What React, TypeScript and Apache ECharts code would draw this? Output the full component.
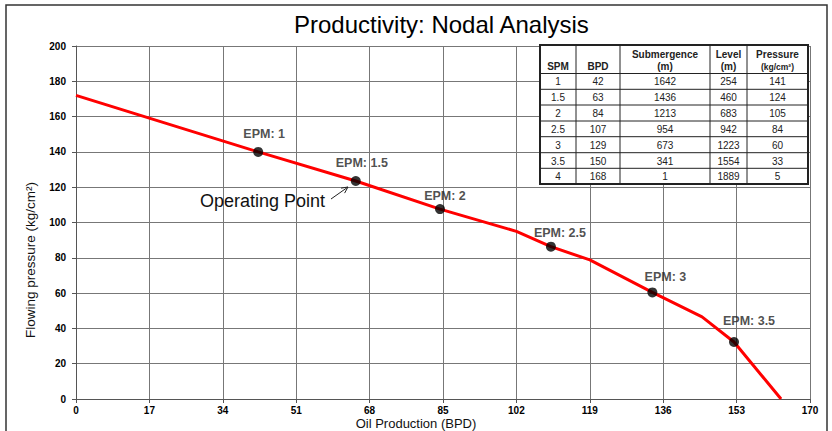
import React, { useEffect, useRef } from "react";
import * as echarts from "echarts";

// Curve (pressure vs production)
const curveBpd = [0, 42.2, 64.8, 84.3, 102, 110, 119, 133.5, 145, 152.4, 163.3];
const curvePressure = [172, 140, 123.5, 107.6, 95, 86.3, 78.8, 60.4, 46.5, 32.3, 0];

// EPM marker points (as plotted)
const epmLabels = ["EPM: 1", "EPM: 1.5", "EPM: 2", "EPM: 2.5", "EPM: 3", "EPM: 3.5"];
const epmBpd = [42.2, 64.8, 84.3, 110, 133.5, 152.4];
const epmPressure = [140, 123.5, 107.6, 86.3, 60.4, 32.3];

// Table contents
const tableHeader1 = ["", "", "Submergence", "Level", "Pressure"];
const tableHeader2 = ["SPM", "BPD", "(m)", "(m)", "(kg/cm²)"];
const tableSpm = ["1", "1.5", "2", "2.5", "3", "3.5", "4"];
const tableBpd = ["42", "63", "84", "107", "129", "150", "168"];
const tableSubmergence = ["1642", "1436", "1213", "954", "673", "341", "1"];
const tableLevel = ["254", "460", "683", "942", "1223", "1554", "1889"];
const tablePressure = ["141", "124", "105", "84", "60", "33", "5"];

const xTicks = [0, 17, 34, 51, 68, 85, 102, 119, 136, 153, 170];

// label offsets (styling)
const labelOffsets: [number, number][] = [
  [6, -18], [6, -18], [5, -13], [9, -14], [13, -15], [15, -21],
];

const FONT = "'Liberation Sans', Arial, sans-serif";

function buildTable() {
  const colX = [540, 576, 620, 710, 747, 808];
  const rowY = [45, 73.5, 89.3, 105, 121, 136.7, 152.7, 168.3, 184];
  const children: any[] = [];
  const Z = 100;
  children.push({
    type: "rect",
    z: Z,
    shape: { x: colX[0], y: rowY[0], width: colX[5] - colX[0], height: rowY[8] - rowY[0] },
    style: { fill: "#fff", stroke: "#222", lineWidth: 2 },
  });
  for (let i = 1; i < colX.length - 1; i++) {
    children.push({
      type: "line",
      z: Z + 1,
      shape: { x1: colX[i], y1: rowY[0], x2: colX[i], y2: rowY[8] },
      style: { stroke: "#222", lineWidth: 1 },
    });
  }
  for (let j = 1; j < rowY.length - 1; j++) {
    children.push({
      type: "line",
      z: Z + 1,
      shape: { x1: colX[0], y1: rowY[j], x2: colX[5], y2: rowY[j] },
      style: { stroke: "#222", lineWidth: 1 },
    });
  }
  const cols = [tableSpm, tableBpd, tableSubmergence, tableLevel, tablePressure];
  for (let c = 0; c < 5; c++) {
    const cx = (colX[c] + colX[c + 1]) / 2;
    if (tableHeader1[c]) {
      children.push({
        type: "text",
        z: Z + 2,
        style: {
          x: cx, y: 54, text: tableHeader1[c], align: "center", verticalAlign: "middle",
          font: `bold 10px ${FONT}`, fill: "#222",
        },
      });
    }
    children.push({
      type: "text",
      z: Z + 2,
      style: {
        x: cx, y: 66.5, text: tableHeader2[c], align: "center", verticalAlign: "middle",
        font: `bold ${c === 4 ? 8.5 : 10}px ${FONT}`, fill: "#222",
      },
    });
    for (let r = 0; r < cols[c].length; r++) {
      children.push({
        type: "text",
        z: Z + 2,
        style: {
          x: cx, y: (rowY[r + 1] + rowY[r + 2]) / 2 + 0.5, text: cols[c][r], align: "center",
          verticalAlign: "middle", font: `10px ${FONT}`, fill: "#222",
        },
      });
    }
  }
  return { type: "group", children, z: Z };
}

export default function App() {
  const ref = useRef<HTMLDivElement>(null);
  useEffect(() => {
    const chart = echarts.init(ref.current!, null, { renderer: "svg" });
    const ax = 331, ay = 199, bx = 348, by = 187;
    const dx = bx - ax, dy = by - ay;
    const len = Math.sqrt(dx * dx + dy * dy);
    const ux = dx / len, uy = dy / len;
    const ah = 7;
    const rot = (a: number) => [
      bx - ah * (ux * Math.cos(a) - uy * Math.sin(a)),
      by - ah * (ux * Math.sin(a) + uy * Math.cos(a)),
    ];
    chart.setOption({
      animation: false,
      backgroundColor: "#fff",
      title: {
        text: "Productivity: Nodal Analysis",
        left: 289,
        top: 7,
        textStyle: { fontFamily: FONT, fontSize: 24, fontWeight: "normal", color: "#000" },
      },
      grid: { left: 76, right: 22, top: 46, bottom: 32, outerBoundsMode: "none", containLabel: false },
      xAxis: {
        type: "value",
        min: 0,
        max: 170,
        interval: 17,
        axisLine: { show: true, lineStyle: { color: "#555", width: 1 } },
        axisTick: { show: true, length: 4, lineStyle: { color: "#555" } },
        axisLabel: {
          fontFamily: FONT, fontSize: 10, fontWeight: "bold", color: "#000", margin: 6,
          customValues: xTicks,
        },
        splitLine: { show: true, lineStyle: { color: "#777", width: 1 } },
      },
      yAxis: {
        type: "value",
        min: 0,
        max: 200,
        interval: 20,
        axisLine: { show: true, lineStyle: { color: "#555", width: 1 } },
        axisTick: { show: true, length: 4, lineStyle: { color: "#555" } },
        axisLabel: { fontFamily: FONT, fontSize: 10, fontWeight: "bold", color: "#000", margin: 10 },
        splitLine: { show: true, lineStyle: { color: "#777", width: 1 } },
      },
      series: [
        {
          type: "line",
          data: curveBpd.map((x, i) => [x, curvePressure[i]]),
          showSymbol: false,
          symbol: "none",
          lineStyle: { color: "#ff0000", width: 3 },
          z: 3,
        },
        {
          type: "scatter",
          data: epmBpd.map((x, i) => ({
            value: [x, epmPressure[i]],
            name: epmLabels[i],
            label: { offset: labelOffsets[i] },
          })),
          symbol: "circle",
          symbolSize: 10,
          itemStyle: { color: "#000" },
          label: {
            show: true,
            position: "inside",
            formatter: (p: any) => p.name,
            fontFamily: FONT,
            fontSize: 12.5,
            fontWeight: "bold",
            color: "#222",
          },
          z: 4,
        },
      ],
      graphic: [
        {
          type: "rect",
          z: 0,
          shape: { x: 6, y: 5, width: 821, height: 440 },
          style: { fill: "none", stroke: "#333", lineWidth: 1.5 },
        },
        {
          type: "text",
          z: 50,
          style: {
            x: 416, y: 423, text: "Oil Production (BPD)", align: "center", verticalAlign: "middle",
            font: `13px ${FONT}`, fill: "#111",
          },
        },
        {
          type: "text",
          z: 50,
          x: 30,
          y: 260,
          rotation: Math.PI / 2,
          style: {
            x: 0, y: 0, text: "Flowing pressure (kg/cm²)", align: "center", verticalAlign: "middle",
            font: `13.5px ${FONT}`, fill: "#111",
          },
        },
        {
          type: "text",
          z: 50,
          style: {
            x: 200, y: 201, text: "Operating Point", align: "left", verticalAlign: "middle",
            font: `18px ${FONT}`, fill: "#111",
          },
        },
        {
          type: "line",
          z: 50,
          shape: { x1: ax, y1: ay, x2: bx, y2: by },
          style: { stroke: "#222", lineWidth: 1 },
        },
        {
          type: "polyline",
          z: 50,
          shape: { points: [rot(0.45), [bx, by], rot(-0.45)] },
          style: { stroke: "#222", lineWidth: 1, fill: "none" },
        },
        buildTable(),
      ],
    });
    return () => chart.dispose();
  }, []);
  return (
    <div
      ref={ref}
      style={{ position: "fixed", left: 0, top: 0, width: 832, height: 431 }}
    />
  );
}
